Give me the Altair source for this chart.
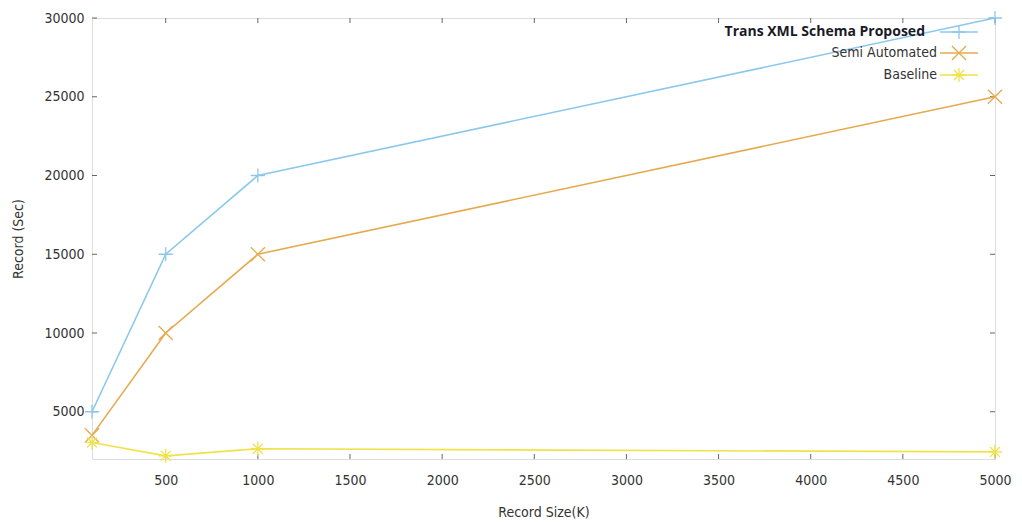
import altair as alt
import pandas as pd

record_size = [100, 500, 1000, 5000]
trans_xml = [5000, 15000, 20000, 30000]
semi_auto = [3500, 10000, 15000, 25000]
baseline = [3050, 2200, 2650, 2450]

series_names = ["Trans XML Schema Proposed", "Semi Automated", "Baseline"]
series_colors = ["#8cc8ec", "#e6aa4e", "#f0e24a"]
series_shapes = [
    "M-1,0L1,0M0,-1L0,1",
    "M-1,-1L1,1M-1,1L1,-1",
    "M-1,0L1,0M0,-1L0,1M-0.7,-0.7L0.7,0.7M-0.7,0.7L0.7,-0.7",
]
x_ticks = [500, 1000, 1500, 2000, 2500, 3000, 3500, 4000, 4500, 5000]
y_ticks = [5000, 10000, 15000, 20000, 25000, 30000]

rows = []
for name, vals in zip(series_names, [trans_xml, semi_auto, baseline]):
    for xv, yv in zip(record_size, vals):
        rows.append({"size": xv, "value": yv, "series": name})
df = pd.DataFrame(rows)

W, H = 903, 441
FONT = "DejaVu Sans Condensed, Liberation Sans, sans-serif"

xs = alt.Scale(domain=[100, 5000], nice=False, zero=False)
ys = alt.Scale(domain=[2000, 30000], nice=False, zero=False)
cs = alt.Scale(domain=series_names, range=series_colors)
ss = alt.Scale(domain=series_names, range=series_shapes)

base = alt.Chart(df).encode(
    x=alt.X("size:Q", scale=xs, axis=alt.Axis(
        values=x_ticks, format="d", title="Record Size(K)", grid=False, domain=False,
        ticks=False, labelPadding=14, labelFlush=False, labelOverlap=False,
        labelFont=FONT, labelFontSize=14,
        labelColor="#333333", titleFont=FONT, titleFontSize=14,
        titleFontWeight="normal", titleColor="#333333", titlePadding=18)),
    y=alt.Y("value:Q", scale=ys, axis=alt.Axis(
        values=y_ticks, format="d", title="Record (Sec)", grid=False, domain=False,
        ticks=False, labelPadding=8, labelFlush=False, labelOverlap=False,
        labelFont=FONT, labelFontSize=14,
        labelColor="#333333", titleFont=FONT, titleFontSize=14,
        titleFontWeight="normal", titleColor="#333333", titlePadding=18)),
    color=alt.Color("series:N", scale=cs, legend=None),
)

lines = base.mark_line(strokeWidth=1.6)
points = base.mark_point(filled=False, size=200, strokeWidth=1.3, opacity=1).encode(
    shape=alt.Shape("series:N", scale=ss, legend=None)
)

# inward tick marks on all four sides
xt = pd.DataFrame({"t": x_ticks})
yt = pd.DataFrame({"t": y_ticks})
tick_col = "#666666"
xtick_b = alt.Chart(xt).mark_rule(color=tick_col, strokeWidth=1).encode(
    x=alt.X("t:Q", scale=xs), y=alt.value(H), y2=alt.value(H - 5))
xtick_t = alt.Chart(xt).mark_rule(color=tick_col, strokeWidth=1).encode(
    x=alt.X("t:Q", scale=xs), y=alt.value(0), y2=alt.value(5))
ytick_l = alt.Chart(yt).mark_rule(color=tick_col, strokeWidth=1).encode(
    y=alt.Y("t:Q", scale=ys), x=alt.value(0), x2=alt.value(5))
ytick_r = alt.Chart(yt).mark_rule(color=tick_col, strokeWidth=1).encode(
    y=alt.Y("t:Q", scale=ys), x=alt.value(W), x2=alt.value(W - 5))

# legend inside top-right
leg = pd.DataFrame({"series": series_names})
row_y = [14, 35, 57]
legend_layers = []
for i, name in enumerate(series_names):
    one = leg[leg["series"] == name]
    ly = row_y[i]
    if i == 0:
        txt = alt.Chart(one).mark_text(align="right", baseline="middle", font="Open Sans",
                                       fontWeight="bold", fontSize=14, color="#1a1a28").encode(
            text="series:N", x=alt.value(W - 70), y=alt.value(ly))
    else:
        txt = alt.Chart(one).mark_text(align="right", baseline="middle", font=FONT,
                                       fontSize=14, color="#333333").encode(
            text="series:N", x=alt.value(W - 58), y=alt.value(ly))
    seg = alt.Chart(one).mark_rule(strokeWidth=1.6).encode(
        x=alt.value(W - 55), x2=alt.value(W - 17), y=alt.value(ly),
        color=alt.Color("series:N", scale=cs, legend=None))
    sym = alt.Chart(one).mark_point(filled=False, size=200, strokeWidth=1.3, opacity=1).encode(
        x=alt.value(W - 36), y=alt.value(ly),
        color=alt.Color("series:N", scale=cs, legend=None),
        shape=alt.Shape("series:N", scale=ss, legend=None))
    legend_layers += [txt, seg, sym]

chart = alt.layer(
    xtick_b, xtick_t, ytick_l, ytick_r, lines, points, *legend_layers
).properties(
    width=W, height=H,
    autosize=alt.AutoSizeParams(type="none"),
    padding={"left": 84, "top": 10, "right": 18, "bottom": 60},
).configure_view(
    stroke="#808080", strokeWidth=2
).configure(background="white")

chart.save("out.html", embed_options={"renderer": "svg", "actions": False})
